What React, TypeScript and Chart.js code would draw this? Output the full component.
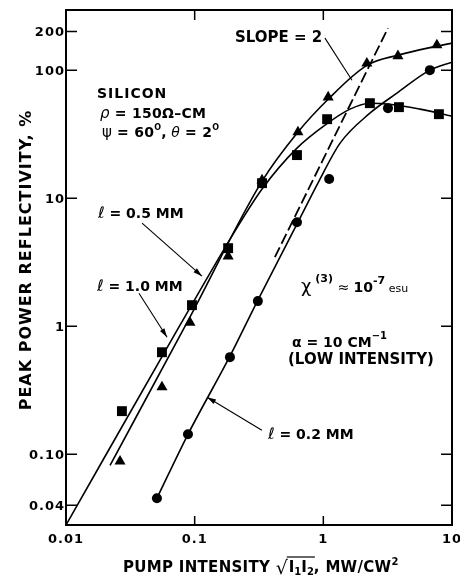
import React, { useEffect, useRef } from 'react';
import { Chart, registerables } from 'chart.js';

Chart.register(...registerables);

// ---- measured data points ----
const squareX = [0.0272, 0.0557, 0.0953, 0.182, 0.334, 0.624, 1.07, 2.3, 3.87, 7.91];
const squareY = [0.217, 0.626, 1.46, 4.07, 13.1, 21.7, 41.4, 55.2, 51.4, 45.3];
const triangleX = [0.0263, 0.0557, 0.0919, 0.182, 0.334, 0.635, 1.09, 2.18, 3.8, 7.63];
const triangleY = [0.088, 0.334, 1.07, 3.52, 13.8, 32.8, 61.5, 113, 129, 157];
const circleX = [0.0509, 0.0887, 0.188, 0.31, 0.624, 1.11, 3.18, 6.73];
const circleY = [0.0453, 0.143, 0.573, 1.57, 6.49, 14.1, 50.5, 100];

// ---- hand-drawn fit curves ----
const squareFitX = [0.01, 0.0769, 0.2056, 0.334, 0.624, 1.03, 1.61, 2.3, 3.29, 5.63, 10];
const squareFitY = [0.028, 1.018, 5.53, 11.8, 24.6, 37.2, 49.6, 55.2, 54.2, 49.6, 43.7];
const triangleFitX = [0.022, 0.0919, 0.334, 0.624, 1.09, 2.18, 3.8, 7.63, 10];
const triangleFitY = [0.082, 1.176, 13.6, 32.2, 59.3, 109, 131, 154, 162.6];
const circleFitX = [0.0509, 0.0887, 0.188, 0.31, 0.635, 0.908, 1.35, 2.3, 3.73, 6.73, 10];
const circleFitY = [0.0453, 0.143, 0.583, 1.6, 6.49, 13.1, 26.9, 46.1, 66.1, 100, 115.5];
const slopeX = [0.42, 3.18];
const slopeY = [3.46, 213];

// ---- axes ----
const X_MIN = 0.01;
const X_MAX = 10;
const Y_MIN = 0.028;
const Y_MAX = 295;
const yTickValues = [0.04, 0.1, 1, 10, 100, 200];
const yTickLabels = ['0.04', '0.10', '1', '10', '100', '200'];
const xTickValues = [0.01, 0.1, 1, 10];
const xTickLabels = ['0.01', '0.1', '1', '10'];
const xInnerTicks = [0.1, 1];

// ---- leader lines (data coords) ----
const leaders = [
  { from: [0.039, 6.38], to: [0.114, 2.46], head: true },
  { from: [0.0369, 1.81], to: [0.061, 0.82], head: true },
  { from: [0.333, 0.154], to: [0.125, 0.279], head: true },
  { from: [1.03, 178], to: [1.67, 83.5], head: false },
];

const zip = (xs: number[], ys: number[]) => xs.map((x, i) => ({ x, y: ys[i] }));

const B = (s: number) => `bold ${s}px "DejaVu Sans"`;
const R = (s: number) => `${s}px "DejaVu Sans"`;
const I = (s: number) => `italic ${s}px "DejaVu Sans"`;

type Run = { t: string; f: string; dy?: number; ls?: number };

function drawRuns(ctx: CanvasRenderingContext2D, x: number, y: number, runs: Run[]) {
  let cx = x;
  for (const r of runs) {
    ctx.font = r.f;
    (ctx as any).letterSpacing = (r.ls ?? 0) + 'px';
    ctx.fillText(r.t, cx, y + (r.dy ?? 0));
    cx += ctx.measureText(r.t).width;
  }
  (ctx as any).letterSpacing = '0px';
  return cx;
}

const decorPlugin = {
  id: 'decor',
  afterDraw(chart: any) {
    const { ctx, chartArea, scales } = chart;
    const { left, right, top, bottom } = chartArea;
    const xs = scales.x;
    const ys = scales.y;
    ctx.save();
    ctx.strokeStyle = '#000';
    ctx.fillStyle = '#000';
    // frame
    ctx.lineWidth = 2;
    ctx.strokeRect(left, top, right - left, bottom - top);
    // y ticks both sides
    ctx.lineWidth = 1.5;
    for (const v of yTickValues) {
      const py = ys.getPixelForValue(v);
      ctx.beginPath();
      ctx.moveTo(left, py);
      ctx.lineTo(left + 11, py);
      ctx.moveTo(right, py);
      ctx.lineTo(right - 11, py);
      ctx.stroke();
    }
    for (const v of xInnerTicks) {
      const px = xs.getPixelForValue(v);
      ctx.beginPath();
      ctx.moveTo(px, top);
      ctx.lineTo(px, top + 10);
      ctx.moveTo(px, bottom);
      ctx.lineTo(px, bottom - 9);
      ctx.stroke();
    }
    // tick labels
    ctx.font = B(13);
    (ctx as any).letterSpacing = '1px';
    ctx.textBaseline = 'middle';
    ctx.textAlign = 'right';
    yTickValues.forEach((v, i) => {
      ctx.fillText(yTickLabels[i], left - 1, ys.getPixelForValue(v) + 1);
    });
    ctx.textAlign = 'center';
    ctx.textBaseline = 'alphabetic';
    xTickValues.forEach((v, i) => {
      ctx.fillText(xTickLabels[i], xs.getPixelForValue(v), 543);
    });
    (ctx as any).letterSpacing = '0px';
    ctx.textAlign = 'left';

    // leader lines
    ctx.lineWidth = 1.1;
    for (const l of leaders) {
      const x1 = xs.getPixelForValue(l.from[0]);
      const y1 = ys.getPixelForValue(l.from[1]);
      const x2 = xs.getPixelForValue(l.to[0]);
      const y2 = ys.getPixelForValue(l.to[1]);
      ctx.beginPath();
      ctx.moveTo(x1, y1);
      ctx.lineTo(x2, y2);
      ctx.stroke();
      if (l.head) {
        const a = Math.atan2(y2 - y1, x2 - x1);
        const L = 9, W = 2.6;
        ctx.beginPath();
        ctx.moveTo(x2, y2);
        ctx.lineTo(x2 - L * Math.cos(a) + W * Math.sin(a), y2 - L * Math.sin(a) - W * Math.cos(a));
        ctx.lineTo(x2 - L * Math.cos(a) - W * Math.sin(a), y2 - L * Math.sin(a) + W * Math.cos(a));
        ctx.closePath();
        ctx.fill();
      }
    }

    // annotations
    drawRuns(ctx, 97, 98, [{ t: 'SILICON', f: B(14), ls: 1 }]);
    drawRuns(ctx, 100, 118, [
      { t: 'ρ', f: I(15) },
      { t: ' = 150Ω–CM', f: B(14), ls: 0.3 },
    ]);
    drawRuns(ctx, 102, 137, [
      { t: 'ψ', f: R(15) },
      { t: ' = 60', f: B(14), ls: 0.3 },
      { t: 'O', f: B(8), dy: -7 },
      { t: ', ', f: B(14) },
      { t: 'θ', f: I(14) },
      { t: ' = 2', f: B(14), ls: 0.3 },
      { t: 'O', f: B(8), dy: -7 },
    ]);
    drawRuns(ctx, 98, 218, [{ t: 'ℓ', f: I(16) }, { t: ' = 0.5 MM', f: B(14) }]);
    drawRuns(ctx, 97, 291, [{ t: 'ℓ', f: I(16) }, { t: ' = 1.0 MM', f: B(14) }]);
    drawRuns(ctx, 235, 42, [{ t: 'SLOPE = 2', f: B(15) }]);
    drawRuns(ctx, 301, 292, [
      { t: 'χ', f: R(18) },
      { t: ' (3)', f: B(11), dy: -10 },
      { t: ' ≈ ', f: R(14) },
      { t: '10', f: B(14) },
      { t: '-7', f: B(11), dy: -8 },
      { t: ' esu', f: R(11) },
    ]);
    drawRuns(ctx, 292, 347, [
      { t: 'α = 10 CM', f: B(14) },
      { t: '−1', f: B(10), dy: -8 },
    ]);
    drawRuns(ctx, 288, 364, [{ t: '(LOW INTENSITY)', f: B(15) }]);
    drawRuns(ctx, 268, 439, [{ t: 'ℓ', f: I(16) }, { t: ' = 0.2 MM', f: B(14) }]);

    // x title
    let cx = drawRuns(ctx, 123, 572, [{ t: 'PUMP INTENSITY ', f: B(15), ls: 0.3 }]);
    cx = drawRuns(ctx, cx, 574, [{ t: '√', f: R(19) }]);
    const radStart = cx - 1;
    cx = drawRuns(ctx, cx + 1, 572, [
      { t: 'I', f: B(15) },
      { t: '1', f: B(10), dy: 3 },
      { t: 'I', f: B(15) },
      { t: '2', f: B(10), dy: 3 },
    ]);
    ctx.lineWidth = 1.2;
    ctx.beginPath();
    ctx.moveTo(radStart, 557);
    ctx.lineTo(cx + 1, 557);
    ctx.stroke();
    drawRuns(ctx, cx, 572, [
      { t: ', MW/CW', f: B(15), ls: 0.3 },
      { t: '2', f: B(10), dy: -7 },
    ]);

    // y title
    ctx.save();
    ctx.translate(31, 260);
    ctx.rotate(-Math.PI / 2);
    ctx.textAlign = 'center';
    ctx.font = B(16);
    (ctx as any).letterSpacing = '1px';
    ctx.fillText('PEAK POWER REFLECTIVITY, %', 0, 0);
    ctx.restore();

    ctx.restore();
  },
};

export default function App() {
  const ref = useRef<HTMLCanvasElement>(null);
  useEffect(() => {
    const lineBase = {
      showLine: true,
      pointRadius: 0,
      borderColor: '#000',
      borderWidth: 1.6,
      fill: false,
      cubicInterpolationMode: 'monotone' as const,
    };
    const chart = new Chart(ref.current as HTMLCanvasElement, {
      type: 'scatter',
      data: {
        datasets: [
          { ...lineBase, label: 'fitSq', data: zip(squareFitX, squareFitY) },
          { ...lineBase, label: 'fitTri', data: zip(triangleFitX, triangleFitY) },
          { ...lineBase, label: 'fitCirc', data: zip(circleFitX, circleFitY) },
          {
            ...lineBase,
            label: 'slope',
            data: zip(slopeX, slopeY),
            borderDash: [11, 4],
            borderWidth: 1.8,
          },
          {
            label: 'squares',
            data: zip(squareX, squareY),
            pointStyle: 'rect',
            pointRadius: 7,
            backgroundColor: '#000',
            borderColor: '#000',
            borderWidth: 0,
          },
          {
            label: 'triangles',
            data: zip(triangleX, triangleY),
            pointStyle: 'triangle',
            pointRadius: 6.4,
            backgroundColor: '#000',
            borderColor: '#000',
            borderWidth: 0,
          },
          {
            label: 'circles',
            data: zip(circleX, circleY),
            pointStyle: 'circle',
            pointRadius: 5,
            backgroundColor: '#000',
            borderColor: '#000',
            borderWidth: 0,
          },
        ],
      },
      options: {
        animation: false,
        responsive: false,
        devicePixelRatio: 1,
        layout: { padding: { left: 66, right: 8, top: 10, bottom: 51 } },
        plugins: { legend: { display: false }, tooltip: { enabled: false } },
        scales: {
          x: { type: 'logarithmic', min: X_MIN, max: X_MAX, display: false },
          y: { type: 'logarithmic', min: Y_MIN, max: Y_MAX, display: false },
        },
      },
      plugins: [decorPlugin],
    });
    return () => chart.destroy();
  }, []);
  return (
    <div style={{ position: 'absolute', left: 0, top: 0, width: 460, height: 576, background: '#fff' }}>
      <canvas ref={ref} width={460} height={576} style={{ display: 'block', width: 460, height: 576 }} />
    </div>
  );
}
